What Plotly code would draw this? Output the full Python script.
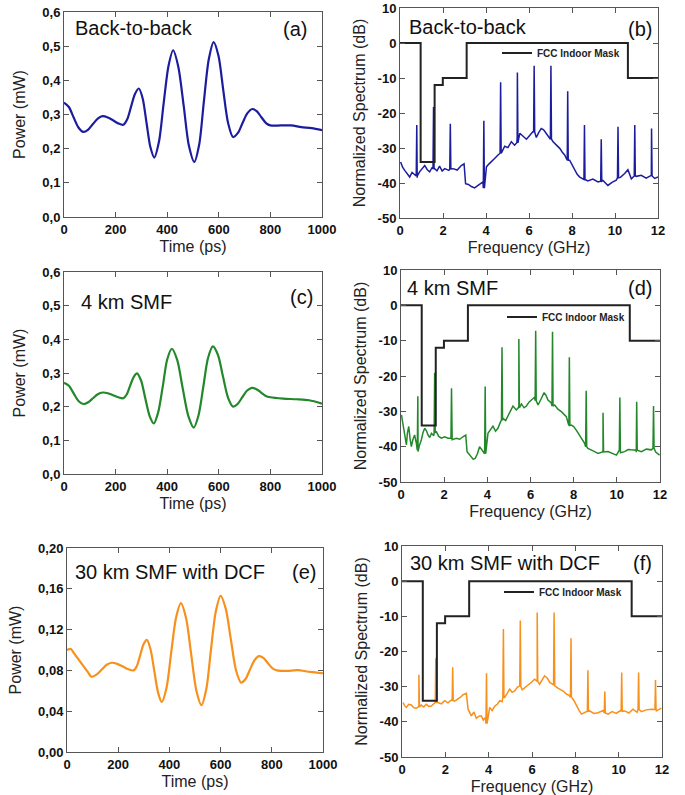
import plotly.graph_objects as go

# ---------------- time-domain waveforms ----------------
t_a = [0, 19, 37, 56, 75, 94, 112, 131, 150, 170, 190, 210, 230, 245, 260, 275, 290, 305, 320, 335, 350,
       368, 386, 405, 423, 443, 464, 484, 505, 524, 542, 561, 580, 599, 617, 636, 655, 674, 692, 711, 730,
       748, 765, 783, 800, 840, 880, 920, 960, 1000]
p_a = [0.335, 0.322, 0.292, 0.262, 0.249, 0.256, 0.272, 0.288, 0.295, 0.291, 0.283, 0.274, 0.270, 0.286,
       0.323, 0.360, 0.376, 0.347, 0.275, 0.204, 0.174, 0.220, 0.331, 0.442, 0.488, 0.440, 0.325, 0.209,
       0.161, 0.212, 0.337, 0.461, 0.512, 0.471, 0.373, 0.275, 0.234, 0.246, 0.275, 0.304, 0.316, 0.309,
       0.292, 0.275, 0.268, 0.268, 0.268, 0.263, 0.260, 0.254]

t_c = [0, 19, 37, 56, 75, 94, 112, 131, 150, 170, 190, 210, 230, 243, 256, 270, 283, 299, 315, 332, 348,
       365, 383, 400, 418, 439, 460, 482, 503, 521, 540, 558, 577, 597, 616, 636, 655, 673, 691, 710, 728,
       746, 764, 782, 800, 850, 900, 950, 1000]
p_c = [0.271, 0.262, 0.240, 0.217, 0.208, 0.213, 0.225, 0.237, 0.242, 0.240, 0.234, 0.228, 0.225, 0.236,
       0.262, 0.288, 0.299, 0.277, 0.225, 0.172, 0.150, 0.183, 0.261, 0.340, 0.372, 0.338, 0.255, 0.172,
       0.138, 0.173, 0.259, 0.344, 0.379, 0.353, 0.290, 0.226, 0.200, 0.208, 0.228, 0.248, 0.256, 0.252,
       0.242, 0.232, 0.228, 0.224, 0.222, 0.219, 0.209]

t_e = [0, 15, 27, 55, 83, 95, 115, 135, 155, 175, 196, 218, 240, 260, 273, 286, 299, 312, 326, 341, 356,
       370, 389, 407, 426, 445, 465, 485, 505, 525, 544, 562, 581, 600, 620, 640, 660, 680, 698, 715, 733,
       750, 768, 785, 803, 820, 860, 900, 950, 1000]
p_e = [0.1000, 0.1010, 0.0970, 0.0874, 0.0778, 0.0738, 0.0758, 0.0806, 0.0855, 0.0875, 0.0864, 0.0838,
       0.0811, 0.0800, 0.0844, 0.0950, 0.1056, 0.1100, 0.1010, 0.0795, 0.0580, 0.0490, 0.0632, 0.0975,
       0.1318, 0.1460, 0.1314, 0.0960, 0.0606, 0.0460, 0.0616, 0.0995, 0.1374, 0.1530, 0.1406, 0.1105,
       0.0804, 0.0680, 0.0718, 0.0810, 0.0902, 0.0940, 0.0920, 0.0870, 0.0820, 0.0800, 0.0795, 0.0802,
       0.0785, 0.0772]

# ---------------- spectra ----------------
mask_f = [0, 0.96, 1.61, 1.99, 3.1, 10.6, 12]
mask_db = [0, -34, -12, -10, 0, -10, -10]

spike_f = [0.78, 1.56, 2.34, 3.9, 4.68, 5.46, 6.24, 7.02, 7.8, 8.58, 9.36, 10.14, 10.92, 11.7]

base_f_b = [0.03, 0.12, 0.22, 0.33, 0.45, 0.56, 0.68, 0.8, 0.91, 1.03, 1.15, 1.27, 1.38, 1.5, 1.61, 1.72,
            1.84, 1.96, 2.08, 2.27, 2.47, 2.66, 2.85, 2.98, 3.05, 3.18, 3.32, 3.47, 3.63, 3.75,
            3.86, 4.02, 4.13, 4.25, 4.4, 4.56, 4.72, 4.87, 5.02, 5.18, 5.33, 5.45, 5.57, 5.72, 5.88, 6.03,
            6.19, 6.34, 6.45, 6.57, 6.68, 6.8, 6.96, 7.12, 7.27, 7.43, 7.55, 7.66, 7.78,
            7.89, 8.0, 8.12, 8.24, 8.36, 8.55, 8.74, 8.97, 9.21, 9.44, 9.67, 9.86, 10.06, 10.25, 10.45,
            10.6, 10.76, 10.99, 11.22, 11.45, 11.69, 11.85, 12.0]
base_db_b = [-34.0, -35.5, -36.4, -37.2, -38.3, -37.0, -37.8, -38.5, -36.8, -35.8, -35.0, -36.2, -36.8,
             -35.5, -35.9, -36.5, -35.2, -36.6, -35.9, -36.4, -35.9, -36.3, -35.0, -34.5,
             -40.2, -40.4, -41.0, -41.4, -40.7, -40.1, -39.7, -35.4, -34.6, -34.0, -33.0, -32.0, -31.4,
             -29.5, -29.9, -28.2, -29.2, -27.0, -25.8, -26.6, -27.5, -26.4,
             -25.3, -27.0, -25.6, -24.4, -24.8, -25.8, -27.1, -28.2, -29.0, -30.1, -31.2, -32.0, -32.6,
             -33.5, -34.7, -36.4, -37.5, -38.3, -39.0, -39.4, -38.9, -39.7, -39.3, -40.7, -39.8, -39.2,
             -38.4, -37.3, -36.2, -38.8, -38.1, -37.8, -38.6, -37.8, -38.7, -38.3]
spike_db_b = [-23.4, -18.3, -23.1, -22.2, -11.2, -8.4, -6.5, -6.5, -13.8, -23.4, -27.5, -23.9, -23.4, -24.4]
spike_base_b = [-38.0, -36.0, -36.0, -41.5, -31.5, -28.5, -25.5, -27.5, -33.5, -39.0, -39.5, -38.5, -38.0, -38.0]

base_f_d = [0.02, 0.08, 0.14, 0.2, 0.25, 0.3, 0.36, 0.42, 0.48, 0.55, 0.63, 0.71, 0.79, 0.86, 0.94, 1.02,
            1.1, 1.18, 1.25, 1.33, 1.41, 1.52, 1.64, 1.75, 1.87, 2.02, 2.18, 2.37, 2.56, 2.72, 2.87,
            3.0, 3.06, 3.16, 3.26, 3.35, 3.44, 3.54, 3.64, 3.75, 3.85, 4.03, 4.15, 4.26, 4.38, 4.49, 4.61,
            4.73, 4.85, 4.96, 5.08, 5.19, 5.34, 5.46, 5.58, 5.7, 5.81, 5.93, 6.04,
            6.19, 6.35, 6.49, 6.63, 6.72, 6.81, 6.96, 7.12, 7.27, 7.43, 7.55, 7.66, 7.78, 7.89, 8.0,
            8.12, 8.24, 8.36, 8.5, 8.66, 8.9, 9.13, 9.36, 9.59, 9.78, 9.98, 10.17, 10.36,
            10.52, 10.67, 10.9, 11.14, 11.37, 11.6, 11.8, 11.98]
base_db_d = [-31.0, -33.5, -35.8, -37.5, -39.5, -36.0, -34.3, -37.8, -40.0, -38.0, -36.7, -39.0, -41.4,
             -39.5, -38.1, -36.0, -34.8, -35.5, -36.7, -37.4, -36.2, -36.9, -35.8, -37.1, -37.6,
             -37.2, -37.6, -38.0, -37.6, -37.9, -37.2,
             -36.7, -41.4, -42.1, -42.8, -43.6, -43.3, -42.0, -40.0, -41.0, -41.9, -36.2, -35.0, -34.2,
             -35.6, -34.8, -33.0, -32.0, -32.6, -31.0, -29.8, -28.5, -29.6, -28.6, -27.9, -29.0, -28.5,
             -27.4, -26.8, -26.0, -28.2, -26.5, -24.7, -25.5, -26.8, -27.6, -28.2, -29.4, -30.1, -30.9,
             -31.5, -32.6, -33.9, -34.3, -35.3, -36.5, -37.6, -39.0, -40.5, -41.2, -41.9, -41.0, -41.4,
             -42.0, -42.4, -41.7, -41.4, -40.8, -40.9, -41.6, -41.4, -40.7, -40.9, -41.5, -42.4]
spike_db_d = [-25.7, -19.1, -23.5, -23.0, -11.9, -9.5, -7.2, -7.5, -14.7, -24.2, -30.4, -26.1, -27.3, -28.5]
spike_base_d = [-41.0, -36.0, -37.6, -42.0, -32.5, -29.0, -27.0, -28.5, -34.0, -40.0, -41.5, -41.0, -41.0, -40.5]

base_f_f = [0.05, 0.12, 0.2, 0.31, 0.43, 0.55, 0.66, 0.78, 0.89, 1.0, 1.12, 1.24, 1.35, 1.5, 1.66, 1.82,
            1.97, 2.12, 2.28, 2.43, 2.58, 2.7, 2.82, 2.97, 3.05, 3.12, 3.2, 3.32, 3.43, 3.55,
            3.66, 3.75, 3.85, 4.05, 4.16, 4.28, 4.4, 4.51, 4.62, 4.74, 4.86, 4.97, 5.08, 5.2, 5.32, 5.43,
            5.55, 5.66, 5.78, 5.89, 6.0, 6.12, 6.24, 6.35, 6.46, 6.58, 6.7, 6.82, 6.94, 7.05,
            7.2, 7.35, 7.47, 7.58, 7.7, 7.82, 7.94, 8.05, 8.16, 8.28, 8.47, 8.66, 8.85, 9.05, 9.28,
            9.51, 9.7, 9.89, 10.08, 10.28, 10.47, 10.66, 10.85, 11.05, 11.28, 11.51, 11.74, 11.97]
base_db_f = [-34.5, -35.4, -35.9, -35.0, -35.2, -36.0, -36.1, -35.4, -35.2, -35.8, -35.0, -35.6, -35.5,
             -34.8, -34.5, -34.9, -34.0, -34.6, -33.8, -34.1, -33.6, -33.0, -32.3, -31.9,
             -36.4, -37.5, -38.3, -37.2, -39.0, -38.4, -38.3, -39.5, -38.8, -35.9, -36.8, -35.5, -35.0,
             -34.0, -34.3, -33.1, -31.8, -30.7, -31.6, -31.2, -30.2, -29.8, -30.9, -30.4, -29.6, -29.3,
             -28.6, -27.9, -28.5, -29.3, -28.0, -26.9, -27.5, -28.8, -29.3, -29.8,
             -30.4, -31.0, -31.4, -32.1, -32.4, -33.1, -34.0, -35.5, -36.6, -37.8, -37.2, -36.9, -37.6,
             -37.4, -36.8, -37.8, -37.1, -37.6, -36.8, -36.9, -37.5, -36.4, -37.3, -37.1, -36.6, -36.4,
             -36.9, -36.1]
spike_db_f = [-26.6, -21.9, -24.5, -26.2, -13.6, -11.2, -8.9, -8.9, -16.2, -25.3, -31.4, -26.0, -26.0, -28.1]
spike_base_f = [-35.8, -34.5, -34.0, -40.5, -33.0, -30.0, -28.5, -29.5, -33.0, -37.0, -37.5, -37.0, -36.5, -36.5]

y_spec_ticks = [-50, -40, -30, -20, -10, 0, 10]
y_spec_text = ["-50", "-40", "-30", "-20", "-10", "0", "10"]


def merge_spectrum(bf, bd, sf, sd, sb, w=0.025):
    pts = list(zip(bf, bd))
    for f, pk, b in zip(sf, sd, sb):
        pts += [(f - w, b), (f, pk), (f + w, b)]
    pts.sort(key=lambda p: p[0])
    return [p[0] for p in pts], [p[1] for p in pts]


W, H = 685, 795
FONT = "Liberation Sans, Arial, sans-serif"


def px_x(x):
    return x / W


def px_y(y):
    return 1 - y / H


BLUE = "#1c1c9e"
GREEN = "#22882a"
ORANGE = "#f8901c"
FRAME = "#555555"

fig = go.Figure()

panels = [
    ("x", "y", (64, 322), (12, 217)),
    ("x2", "y2", (400, 658), (8, 218)),
    ("x3", "y3", (64, 322), (272, 474)),
    ("x4", "y4", (401, 660), (270, 482)),
    ("x5", "y5", (67, 323), (548, 752)),
    ("x6", "y6", (402, 662), (546, 757)),
]

for (xa, ya, _, _), t, p, c in [
    (panels[0], t_a, p_a, BLUE),
    (panels[2], t_c, p_c, GREEN),
    (panels[4], t_e, p_e, ORANGE),
]:
    fig.add_trace(go.Scatter(x=t, y=p, mode="lines", xaxis=xa, yaxis=ya, showlegend=False,
                             line=dict(color=c, width=2.2, shape="spline", smoothing=0.8)))

legends = ["legend", "legend2", "legend3"]
for i, ((xa, ya, _, _), bf, bd, sd, sb, c) in enumerate([
    (panels[1], base_f_b, base_db_b, spike_db_b, spike_base_b, BLUE),
    (panels[3], base_f_d, base_db_d, spike_db_d, spike_base_d, GREEN),
    (panels[5], base_f_f, base_db_f, spike_db_f, spike_base_f, ORANGE),
]):
    fx, fy = merge_spectrum(bf, bd, spike_f, sd, sb)
    fig.add_trace(go.Scatter(x=fx, y=fy, mode="lines", xaxis=xa, yaxis=ya, showlegend=False,
                             line=dict(color=c, width=1.5)))
    fig.add_trace(go.Scatter(x=mask_f, y=mask_db, mode="lines", xaxis=xa, yaxis=ya,
                             name="FCC Indoor Mask", showlegend=True, legend=legends[i],
                             line=dict(color="#222222", width=2, shape="hv")))

axis_common = dict(showline=True, linecolor=FRAME, linewidth=1, mirror="ticks", ticks="inside",
                   ticklen=5, tickcolor=FRAME, showgrid=False, zeroline=False, automargin=False,
                   tickfont=dict(family=FONT, size=13, color="#111", weight="bold"),
                   title_font=dict(family=FONT, size=16, color="#222"))

layout = dict(width=W, height=H, margin=dict(l=0, r=0, t=0, b=0, autoexpand=False),
              plot_bgcolor="white", paper_bgcolor="white", separators=",.", showlegend=True)

for k, (xa, ya, (x0, x1), (y0, y1)) in enumerate(panels):
    xname = "xaxis" if xa == "x" else "xaxis" + xa[1:]
    yname = "yaxis" if ya == "y" else "yaxis" + ya[1:]
    xd = [px_x(x0), px_x(x1)]
    yd = [px_y(y1), px_y(y0)]
    if k % 2 == 0:
        xax = dict(axis_common, domain=xd, anchor=ya, range=[0, 1000], dtick=200, tick0=0,
                   title=dict(text="Time (ps)", standoff=5))
        if k == 4:
            yax = dict(axis_common, domain=yd, anchor=xa, range=[0, 0.2], dtick=0.04, tick0=0,
                       tickformat=".2f", title=dict(text="Power (mW)", standoff=12))
        else:
            yax = dict(axis_common, domain=yd, anchor=xa, range=[0, 0.6], dtick=0.1, tick0=0,
                       tickformat=".1f", title=dict(text="Power (mW)", standoff=12))
    else:
        xax = dict(axis_common, domain=xd, anchor=ya, range=[0, 12], dtick=2, tick0=0,
                   title=dict(text="Frequency (GHz)", standoff=5))
        yax = dict(axis_common, domain=yd, anchor=xa, range=[-50, 10], tickvals=y_spec_ticks,
                   ticktext=y_spec_text, title=dict(text="Normalized Spectrum (dB)", standoff=8))
    layout[xname] = xax
    layout[yname] = yax

leg_pos = [(497, 53), (502, 317), (499, 592)]
for name, (lx, ly) in zip(legends, leg_pos):
    layout[name] = dict(x=px_x(lx), y=px_y(ly), xanchor="left", yanchor="middle",
                        bgcolor="rgba(0,0,0,0)", borderwidth=0,
                        font=dict(family=FONT, size=10, color="#222", weight="bold"))

fig.update_layout(**layout)

ann_font = dict(family=FONT, size=20, color="#111")
annotations = [
    ("Back-to-back", 73, 28, "left"), ("(a)", 309, 29, "right"),
    ("Back-to-back", 407, 27, "left"), ("(b)", 654, 29, "right"),
    ("4 km SMF", 79, 302, "left"), ("(c)", 315, 297, "right"),
    ("4 km SMF", 405, 288, "left"), ("(d)", 654, 288, "right"),
    ("30 km SMF with DCF", 73, 572, "left"), ("(e)", 318, 572, "right"),
    ("30 km SMF with DCF", 408, 563, "left"), ("(f)", 654, 563, "right"),
]
for text, x, y, anc in annotations:
    fig.add_annotation(text=text, x=px_x(x), y=px_y(y), xref="paper", yref="paper",
                       xanchor=anc, yanchor="middle", showarrow=False, font=ann_font)

fig.write_html("out.html", config={"displayModeBar": False},
               post_script="document.body.style.margin='0';")
